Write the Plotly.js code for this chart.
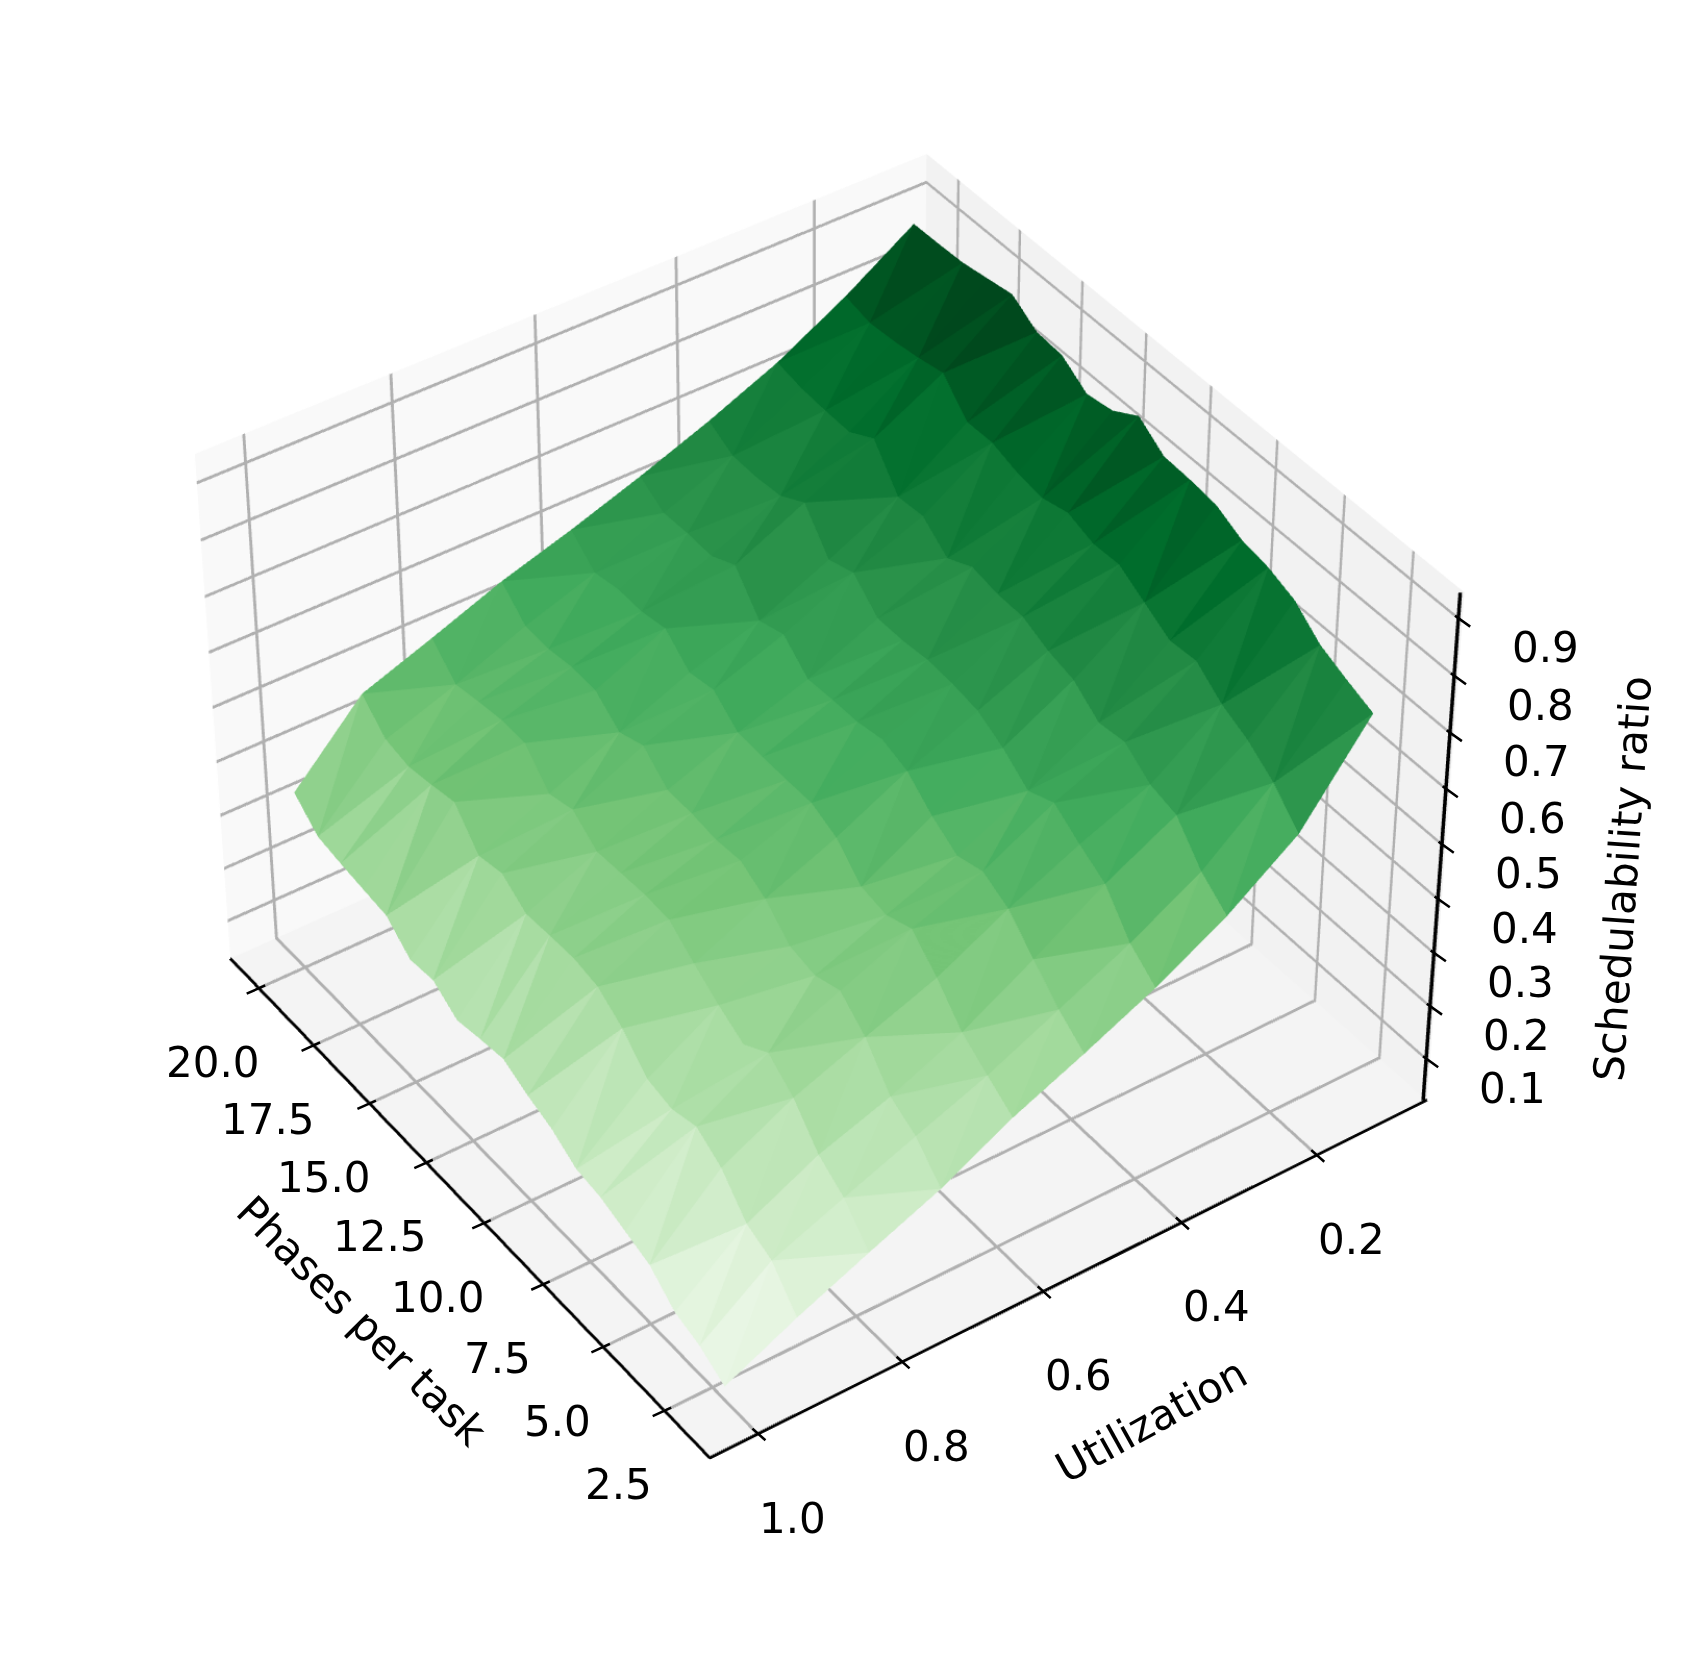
<!DOCTYPE html>
<html><head><meta charset="utf-8">
<style>html,body{margin:0;padding:0;width:1698px;height:1662px;overflow:hidden;background:#fff}
#chart{position:absolute;left:-2178px;top:-2217px;width:6000px;height:6000px}</style>
<script src="https://cdn.plot.ly/plotly-3.0.1.min.js"></script></head><body>
<div id="chart"></div>
<script>
const phases=[2,3,4,5,6,7,8,9,10,11,12,13,14,15,16,17,18,19,20];
const utilization=[0.1,0.2,0.3,0.4,0.5,0.6,0.7,0.8,0.9,1.0];
const ratio_u01=[.724,.743,.764,.803,.821,.830,.853,.859,.862,.895,.867,.859,.890,.894,.924,.916,.908,.906,.905];
const ratio_u02=[.567,.617,.652,.675,.712,.708,.736,.764,.762,.778,.766,.773,.788,.787,.837,.827,.820,.816,.827];
const ratio_u03=[.478,.516,.576,.589,.624,.618,.654,.666,.687,.688,.697,.674,.711,.707,.773,.747,.748,.751,.760];
const ratio_u04=[.408,.446,.511,.540,.573,.553,.589,.615,.623,.626,.621,.621,.664,.648,.712,.686,.681,.682,.707];
const ratio_u05=[.349,.386,.434,.483,.508,.494,.524,.564,.580,.571,.570,.567,.608,.593,.654,.632,.634,.632,.660];
const ratio_u06=[.294,.327,.362,.418,.464,.446,.455,.502,.523,.523,.524,.527,.564,.555,.595,.586,.587,.578,.617];
const ratio_u07=[.226,.278,.306,.371,.412,.396,.406,.450,.477,.473,.479,.480,.520,.503,.539,.541,.534,.536,.578];
const ratio_u08=[.172,.228,.262,.322,.360,.331,.359,.392,.429,.432,.429,.426,.461,.448,.500,.501,.494,.485,.530];
const ratio_u09=[.116,.176,.198,.256,.287,.274,.285,.334,.367,.376,.374,.371,.403,.393,.450,.440,.432,.441,.484];
const ratio_u10=[.053,.082,.098,.139,.156,.173,.180,.209,.227,.250,.243,.234,.265,.260,.299,.305,.311,.319,.359];
const ratio=[ratio_u01,ratio_u02,ratio_u03,ratio_u04,ratio_u05,ratio_u06,ratio_u07,ratio_u08,ratio_u09,ratio_u10];
const diagonals=["ababaabaaabaaaabab","babaabaaabababbaba","bbbaabbbabaabaabab","baabbaabaaababbaba","babaaababaabbaabaa","baabaaabaabaabaaba","abbabaaaaaaabaaaab","abbaabaaaabaaaaaba","bbabaabaabbababaab"];
const phaseTicks=[2.5,5,7.5,10,12.5,15,17.5,20], phaseLabels=['2.5','5.0','7.5','10.0','12.5','15.0','17.5','20.0'];
const utilTicks=[0.2,0.4,0.6,0.8,1.0], utilLabels=['0.2','0.4','0.6','0.8','1.0'];
const ratioTicks=[.1,.2,.3,.4,.5,.6,.7,.8,.9], ratioLabels=['0.1','0.2','0.3','0.4','0.5','0.6','0.7','0.8','0.9'];
const greens=['#f7fcf5','#e5f5e0','#c7e9c0','#a1d99b','#74c476','#41ab5d','#238b45','#006d2c','#00441b'];
const xr=[0.6875,21.3125], yr=[0.0344,1.0656], zr=[0.027,0.95];
const colorLimits=[0.01,0.90];

const X=[],Y=[],Z=[],I=[],J=[],K=[],C=[];
const n=phases.length;
utilization.forEach((u,j)=>phases.forEach((p,i)=>{X.push(p);Y.push(u);Z.push(ratio[j][i]);}));
function tri(a,b,c){I.push(a);J.push(b);K.push(c);C.push((Z[a]+Z[b]+Z[c])/3);}
diagonals.forEach((row,j)=>{for(let i=0;i<n-1;i++){
  const a=j*n+i,b=a+1,c=a+n,d=c+1;
  if(row[i]==='a'){tri(a,b,d);tri(a,d,c);}else{tri(a,b,c);tri(b,d,c);}
}});
const font={family:'DejaVu Sans',size:42,color:'#000'};
const ann=[];
const lab=(x,y,z,text,xshift,yshift,textangle)=>ann.push({x,y,z,text,showarrow:false,font,xshift,yshift,textangle:textangle||0});
const tick=(x,y,z,ax,ay)=>ann.push({x,y,z,text:'',showarrow:true,arrowhead:0,arrowwidth:2.5,arrowcolor:'#000',standoff:0,startstandoff:0,ax,ay});
phaseTicks.forEach((t,q)=>{lab(t,yr[1],zr[0],phaseLabels[q],-46,-74);tick(t,yr[1]-0.009,zr[0],-20,9);});
utilTicks.forEach((t,q)=>{lab(xr[0],t,zr[0],utilLabels[q],35,-84);tick(xr[0]+0.21,t,zr[0],14.5,13);});
ratioTicks.forEach((t,q)=>{lab(xr[0],yr[0],t,ratioLabels[q],83,-26);tick(xr[0]+0.25,yr[0],t,16.7,12);});
lab(11,yr[1],zr[0],'Phases per task',-99,-123,45);
lab(xr[0],.55,zr[0],'Utilization',73,-146,-29);
lab(xr[0],yr[0],.4885,'Schedulability ratio',178,-25,-86);
const e=40.3*Math.PI/180, Rr=8.19;
const eye={x:Rr*Math.cos(e)*-0.819,y:Rr*Math.cos(e)*0.574,z:Rr*Math.sin(e)};
const ax=(range,tickvals,bg,line)=>({range,autorange:false,tickmode:'array',tickvals,showticklabels:false,title:{text:''},
  showgrid:true,gridcolor:'#b0b0b0',gridwidth:3,showbackground:true,backgroundcolor:bg,zeroline:false,showspikes:false,
  showline:line,linecolor:'#000',linewidth:3,ticks:''});
Plotly.newPlot('chart',[{type:'mesh3d',x:X,y:Y,z:Z,i:I,j:J,k:K,intensity:C,intensitymode:'cell',cmin:colorLimits[0],cmax:colorLimits[1],
  colorscale:greens.map((c,q)=>[q/8,c]),showscale:false,flatshading:true,hoverinfo:'skip',
  lighting:{ambient:1,diffuse:0,specular:0,fresnel:0,roughness:1}},
  {type:'scatter3d',mode:'lines',x:[xr[0]+0.04,xr[0]+0.04],y:[yr[0]+0.004,yr[0]+0.004],z:zr,line:{color:'#000',width:3.5},hoverinfo:'skip',showlegend:false}],
{width:6000,height:6000,margin:{l:0,r:0,t:0,b:0},paper_bgcolor:'#fff',showlegend:false,
 scene:{domain:{x:[0,1],y:[0,1]},aspectmode:'manual',aspectratio:{x:1,y:1,z:.75},camera:{eye,center:{x:0,y:0,z:0},up:{x:0,y:0,z:1}},
 xaxis:ax(xr,phaseTicks,'#f9f9f9',true),yaxis:ax(yr,utilTicks,'#f2f2f2',true),zaxis:ax(zr,ratioTicks,'#f4f4f4',false),annotations:ann}},{displayModeBar:false});
</script></body></html>
